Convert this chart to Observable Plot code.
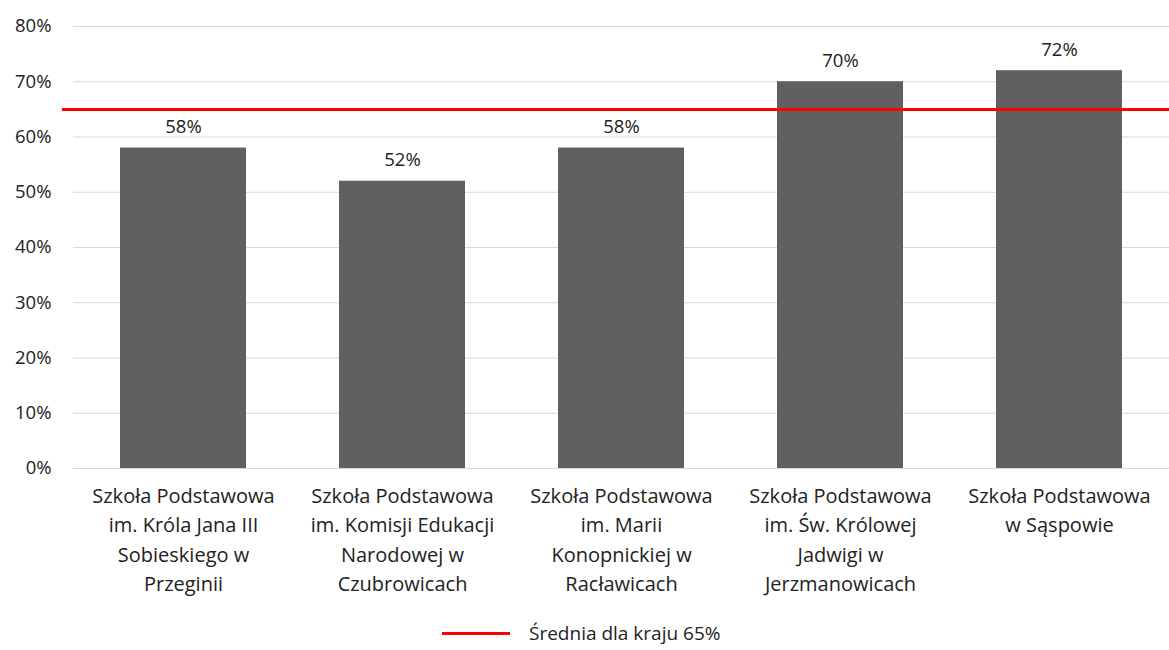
<!DOCTYPE html>
<html><head><meta charset="utf-8">
<script src="https://cdn.jsdelivr.net/npm/d3@7"></script>
<script src="https://cdn.jsdelivr.net/npm/@observablehq/plot@0.6"></script>
<style>
body{margin:0;background:#fff;font-family:"Open Sans",sans-serif;}
#legend{position:relative;height:40px;}
#legend .sw{position:absolute;left:442px;top:20px;width:68px;height:3px;background:#ff0000;}
#legend .tx{position:absolute;left:529px;top:8px;font-size:19px;color:#222;}
</style></head>
<body>
<div id="chart"></div>
<div id="legend"><span class="sw"></span><span class="tx">Średnia dla kraju 65%</span></div>
<script>
const schools = [
  "Szkoła Podstawowa\nim. Króla Jana III\nSobieskiego w\nPrzeginii",
  "Szkoła Podstawowa\nim. Komisji Edukacji\nNarodowej w\nCzubrowicach",
  "Szkoła Podstawowa\nim. Marii\nKonopnickiej w\nRacławicach",
  "Szkoła Podstawowa\nim. Św. Królowej\nJadwigi w\nJerzmanowicach",
  "Szkoła Podstawowa\nw Sąspowie"
];
const results = [58, 52, 58, 70, 72];
const nationalAverage = 65;
const yTicks = [0, 10, 20, 30, 40, 50, 60, 70, 80];

const data = schools.map((s, i) => ({school: s, value: results[i]}));

const chart = Plot.plot({
  width: 1169,
  height: 612,
  marginLeft: 73,
  marginRight: 0,
  marginTop: 26,
  marginBottom: 144,
  style: {fontFamily: "'Open Sans', sans-serif", color: "#222"},
  x: {domain: schools, paddingInner: 0.425, paddingOuter: 0.2125, label: null},
  y: {domain: [0, 80], label: null},
  marks: [
    Plot.gridY(yTicks, {stroke: "#d9d9d9", strokeOpacity: 1, strokeWidth: 1}),
    Plot.axisY(yTicks, {tickSize: 0, tickPadding: 22, fontSize: 18.5, tickFormat: d => d + "%", label: null}),
    Plot.axisX({tickSize: 0, tickPadding: 14, fontSize: 20, lineHeight: 1.46, label: null}),
    Plot.barY(data, {x: "school", y: "value", fill: "#606060"}),
    Plot.text(data, {x: "school", y: "value", text: d => d.value + "%", dy: -21, fontSize: 18.5, fill: "#222"}),
    Plot.ruleY([nationalAverage], {stroke: "#ff0000", strokeWidth: 3, insetLeft: -11})
  ]
});
document.getElementById("chart").appendChild(chart);
</script>
</body></html>
